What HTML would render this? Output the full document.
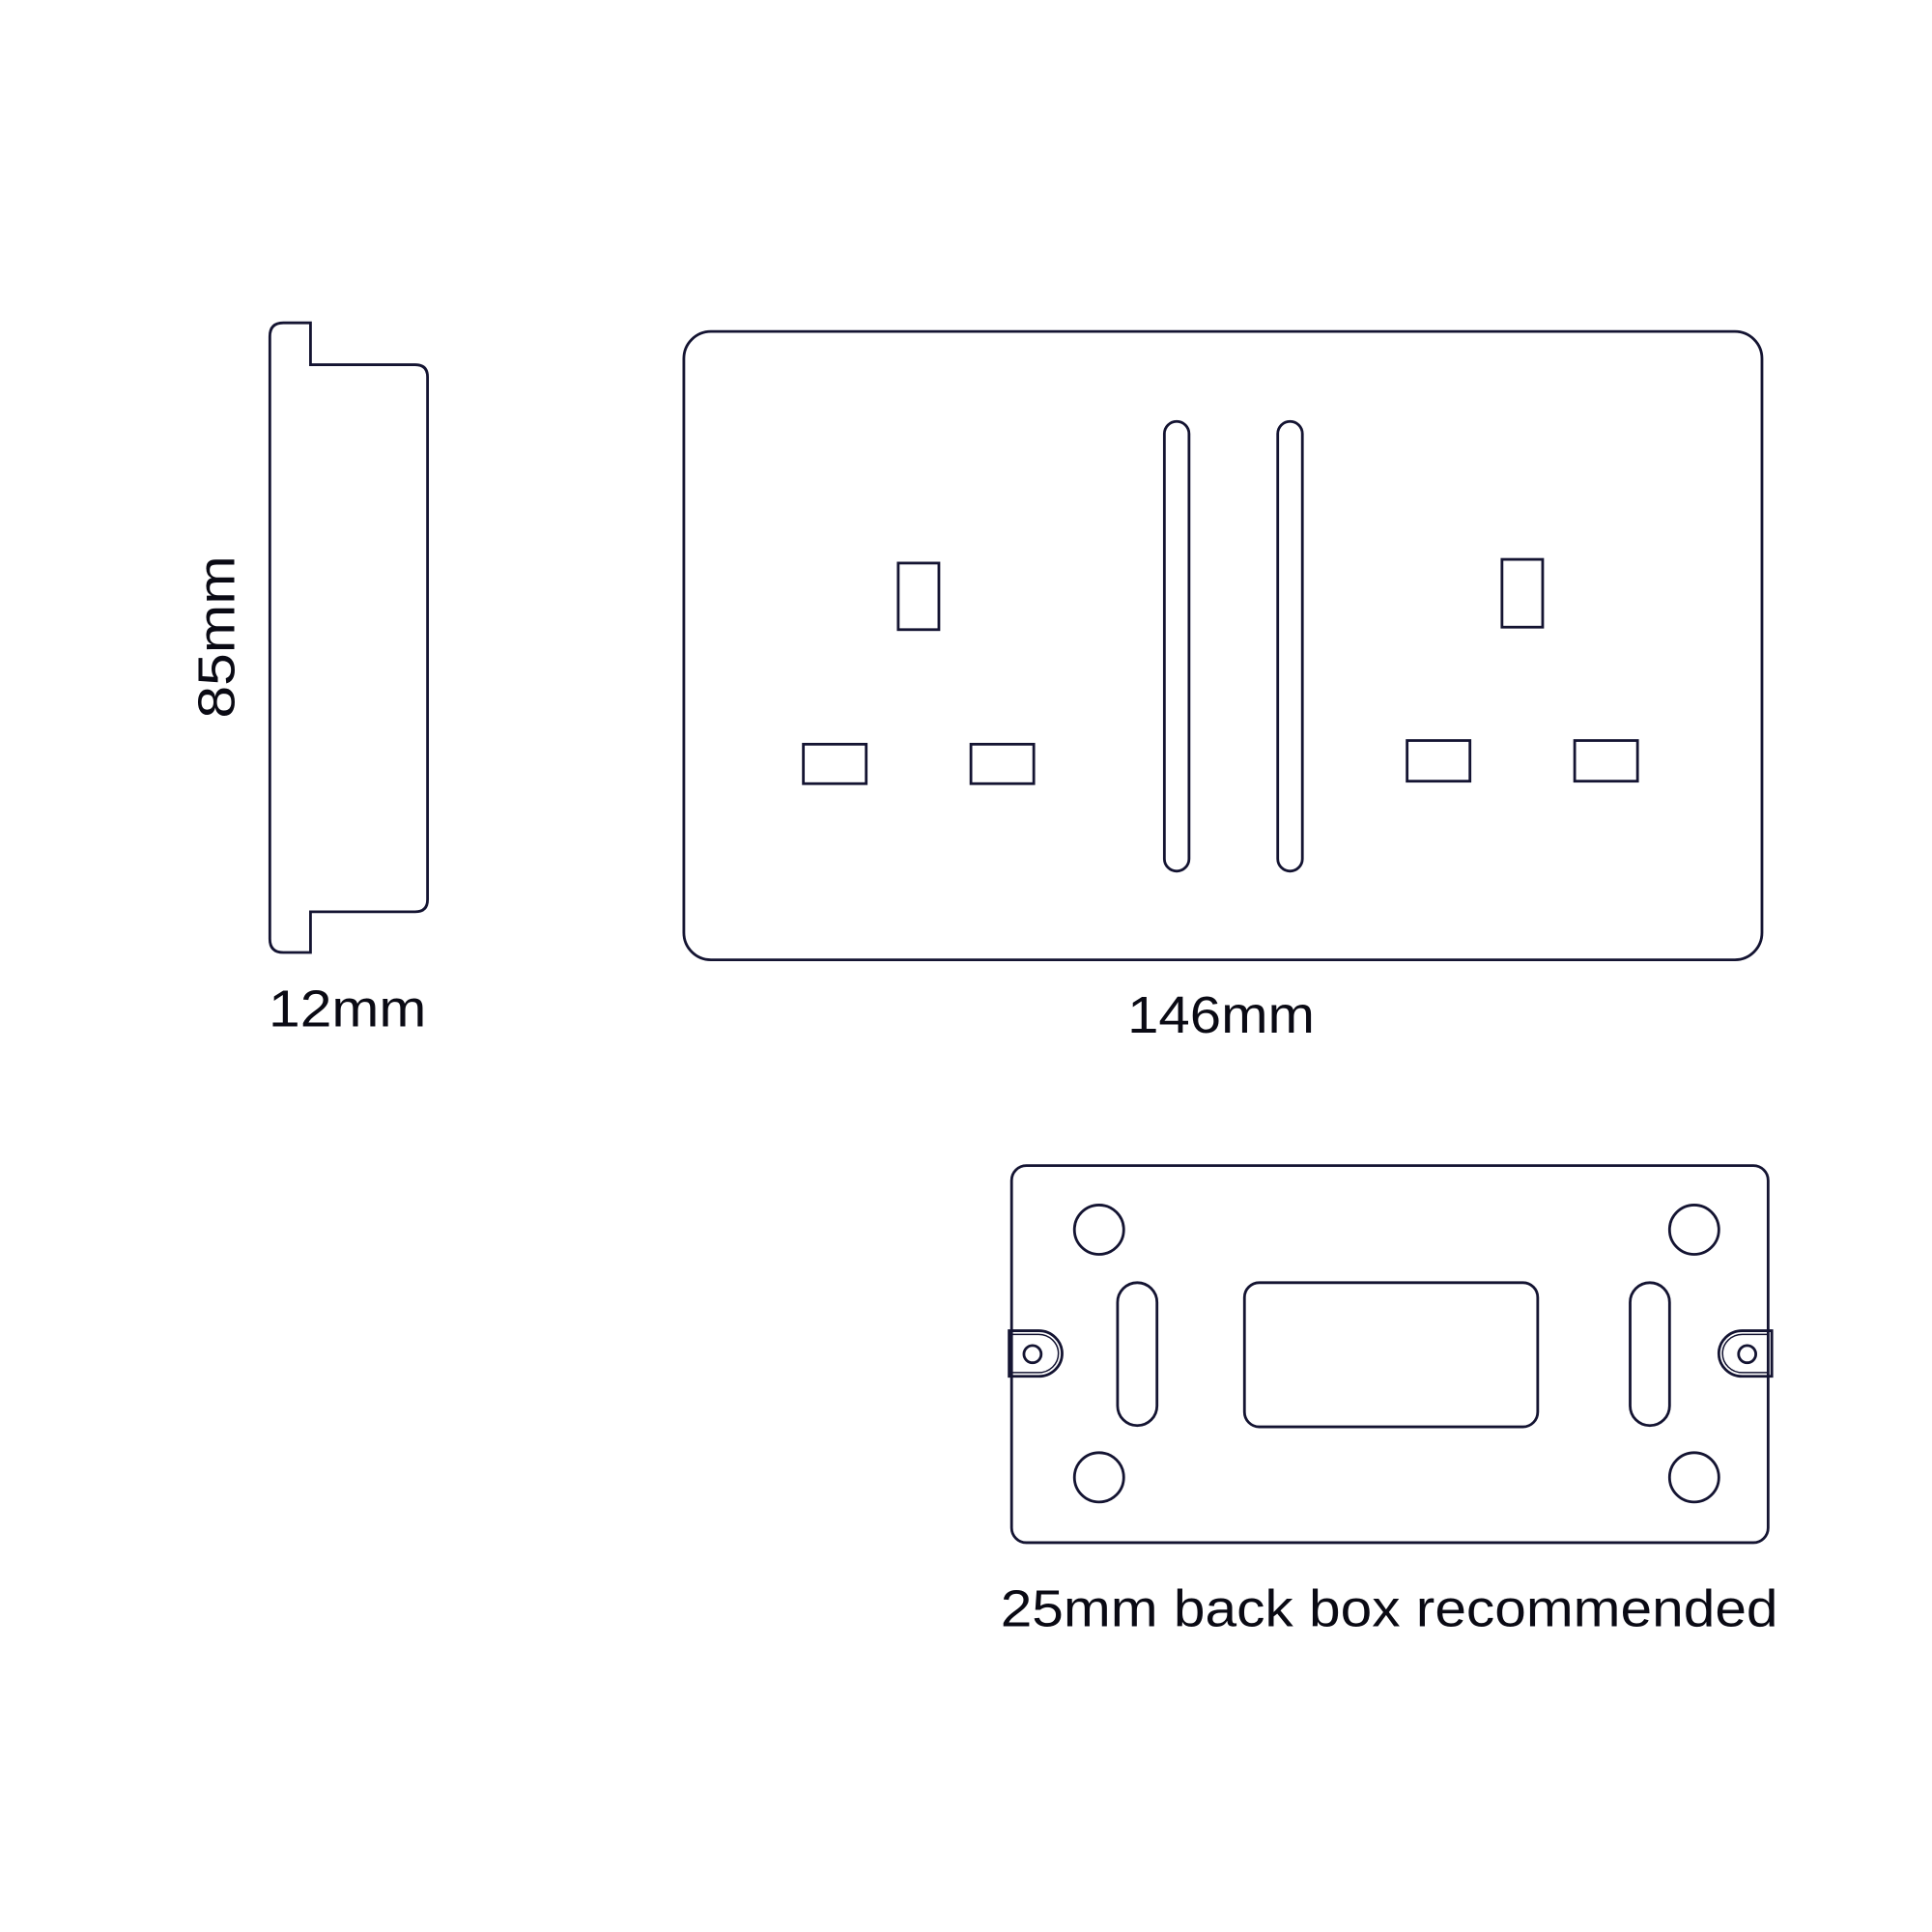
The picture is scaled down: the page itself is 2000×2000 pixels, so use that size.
<!DOCTYPE html>
<html><head><style>html,body{margin:0;padding:0;background:#fff}svg{display:block}</style></head>
<body>
<svg width="2000" height="2000" viewBox="0 0 1568 1568" xmlns="http://www.w3.org/2000/svg">
<g fill="none" stroke="#141432" stroke-width="2.2">
<path d="M252,262 H230 Q219,262 219,273 V762 Q219,773 230,773 H252 V740 H337 Q347,740 347,730 V306 Q347,296 337,296 H252 Z"/>
<rect x="555" y="269" width="875" height="510" rx="22"/>
<rect x="945" y="342" width="20" height="365" rx="10"/>
<rect x="1037" y="342" width="20" height="365" rx="10"/>
<rect x="729" y="457" width="33" height="54"/>
<rect x="652" y="604" width="51" height="32"/>
<rect x="788" y="604" width="51" height="32"/>
<rect x="1219" y="454" width="33" height="55"/>
<rect x="1142" y="601" width="51" height="33"/>
<rect x="1278" y="601" width="51" height="33"/>
<rect x="821" y="946" width="614" height="306" rx="12"/>
<circle cx="892" cy="998" r="20"/><circle cx="1375" cy="998" r="20"/>
<circle cx="892" cy="1199" r="20"/><circle cx="1375" cy="1199" r="20"/>
<rect x="907" y="1041" width="32" height="116" rx="16"/>
<rect x="1323" y="1041" width="32" height="116" rx="16"/>
<rect x="1010" y="1041" width="238" height="117" rx="12"/>
<path d="M819,1080 H843 A19,18.5 0 0 1 843,1117 H819 Z"/>
<path d="M821,1083 H843 A16,15.5 0 0 1 843,1114 H821" stroke-width="1.2"/>
<circle cx="838" cy="1099" r="7"/>
<path d="M1438,1080 H1414 A19,18.5 0 0 0 1414,1117 H1438 Z"/>
<path d="M1435,1083 H1414 A16,15.5 0 0 0 1414,1114 H1435" stroke-width="1.2"/>
<circle cx="1418" cy="1099" r="7"/>
</g>
<g fill="#0a0a14" font-family="Liberation Sans, sans-serif" font-size="42">
<text x="0" y="0" transform="translate(190,517) rotate(-90)" text-anchor="middle" textLength="132" lengthAdjust="spacingAndGlyphs">85mm</text>
<text x="282" y="833" text-anchor="middle" textLength="128" lengthAdjust="spacingAndGlyphs">12mm</text>
<text x="991" y="838" text-anchor="middle" textLength="152" lengthAdjust="spacingAndGlyphs">146mm</text>
<text x="812" y="1320" textLength="631" lengthAdjust="spacingAndGlyphs">25mm back box recommended</text>
</g>
</svg>
</body></html>
